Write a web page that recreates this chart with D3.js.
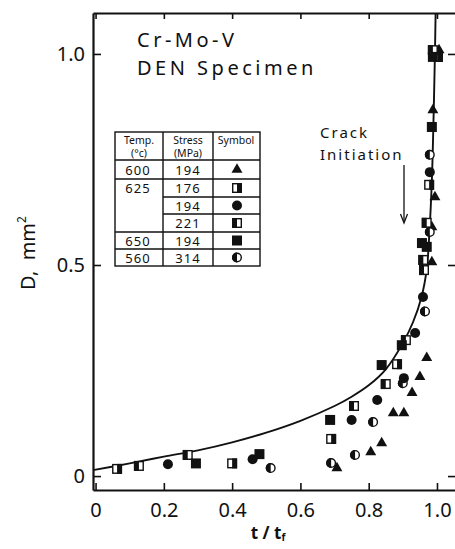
<!DOCTYPE html>
<html>
<head>
<meta charset="utf-8">
<script src="https://cdn.jsdelivr.net/npm/d3@7"></script>
<style>
  body { margin: 0; background: #fff; }
  svg { display: block; font-family: "Noto Sans", sans-serif; }
</style>
</head>
<body>
<div id="wrapper"></div>
<script>
// data: [t/tf, D mm^2]
const curve = [
    [-0.0075, 0.014], [0.1, 0.03], [0.2, 0.046], [0.3, 0.061], [0.4, 0.08],
    [0.5, 0.103], [0.6, 0.131], [0.7, 0.166], [0.75, 0.188], [0.8, 0.215],
    [0.85, 0.253], [0.9, 0.315], [0.93, 0.365], [0.955, 0.425], [0.97, 0.49],
    [0.978, 0.58], [0.985, 0.7], [0.99, 0.85], [0.994, 1.0], [0.996, 1.097]
]

const tri600 = [
    [0.707, 0.019], [0.806, 0.057], [0.838, 0.078], [0.872, 0.149], [0.903, 0.149],
    [0.927, 0.197], [0.95, 0.235], [0.97, 0.28], [0.985, 0.507], [0.985, 0.59],
    [0.994, 0.661], [0.988, 0.867], [1.006, 1.009]
]
const sq176 = [
    [0.063, 0.017], [0.40, 0.03], [0.69, 0.088], [0.883, 0.265], [0.977, 0.69], [1.003, 0.993]
]
const circ194 = [
    [0.212, 0.028], [0.46, 0.04], [0.75, 0.133], [0.825, 0.18], [0.903, 0.232],
    [0.936, 0.339], [0.959, 0.424], [0.979, 0.72]
]
const sq221 = [
    [0.127, 0.024], [0.27, 0.05], [0.757, 0.166], [0.85, 0.218], [0.909, 0.322],
    [0.962, 0.488], [0.96, 0.512], [0.97, 0.6], [0.988, 1.009]
]
const sq650 = [
    [0.294, 0.03], [0.48, 0.052], [0.687, 0.133], [0.838, 0.263], [0.897, 0.31],
    [0.956, 0.552], [0.97, 0.543], [0.985, 0.827], [0.988, 0.993]
]
const half560 = [
    [0.513, 0.019], [0.69, 0.031], [0.76, 0.05], [0.813, 0.128], [0.90, 0.22],
    [0.965, 0.39], [0.979, 0.578], [0.979, 0.761]
]

const xTicks = [0, 0.2, 0.4, 0.6, 0.8, 1.0]
const yTicks = [0, 0.5, 1.0]

const legendRows = [
    { temp: '600', stress: '194', symbol: 'tri' },
    { temp: '625', stress: '176', symbol: 'sqR' },
    { temp: '', stress: '194', symbol: 'circ' },
    { temp: '', stress: '221', symbol: 'sqL' },
    { temp: '650', stress: '194', symbol: 'sq' },
    { temp: '560', stress: '314', symbol: 'half' }
]

const series = [
    { data: tri600, symbol: 'tri' },
    { data: sq176, symbol: 'sqR' },
    { data: sq221, symbol: 'sqL' },
    { data: sq650, symbol: 'sq' },
    { data: half560, symbol: 'half' },
    { data: circ194, symbol: 'circ' }
]

// dimensions
const dms = {
    width: 455,
    height: 549,
    left: 93,
    right: 459,
    top: 13,
    bottom: 490
}

const svg = d3.select('#wrapper')
    .append('svg')
        .attr('width', dms.width)
        .attr('height', dms.height)

const xScale = d3.scaleLinear()
    .domain([-0.0075, 1.0645])
    .range([dms.left, dms.right])

const yScale = d3.scaleLinear()
    .domain([-0.033, 1.097])
    .range([dms.bottom, dms.top])

// frame + axes
const fmt = d => d === 0 ? '0' : d3.format('.1f')(d)

svg.append('g')
    .attr('transform', `translate(0,${dms.bottom})`)
    .call(d3.axisBottom(xScale).tickValues(xTicks).tickSizeInner(-7).tickSizeOuter(0)
        .tickPadding(13).tickFormat(fmt))

svg.append('g')
    .attr('transform', `translate(0,${dms.top})`)
    .call(d3.axisTop(xScale).tickValues(xTicks).tickSizeInner(-6).tickSizeOuter(0).tickFormat(''))

svg.append('g')
    .attr('transform', `translate(${dms.left},0)`)
    .call(d3.axisLeft(yScale).tickValues(yTicks).tickSizeInner(-8).tickSizeOuter(0)
        .tickPadding(8).tickFormat(fmt))

svg.append('g')
    .attr('transform', `translate(${dms.right},0)`)
    .call(d3.axisRight(yScale).tickValues(yTicks).tickSizeInner(-11).tickSizeOuter(0).tickFormat(''))

svg.selectAll('.domain').attr('stroke', '#111').attr('stroke-width', 2.2)
svg.selectAll('.tick line').attr('stroke', '#111').attr('stroke-width', 1.6)
svg.selectAll('.tick text')
    .attr('fill', '#111')
    .style('font-size', '20px')
    .style('font-family', '"Noto Sans", sans-serif')

// axis titles
svg.append('text')
    .attr('x', 268)
    .attr('y', 539)
    .attr('text-anchor', 'middle')
    .attr('fill', '#111')
    .style('font-size', '17px')
    .style('font-weight', 'bold')
    .html('t / t<tspan dy="2" font-size="10px">f</tspan>')

svg.append('text')
    .attr('transform', 'translate(35,253) rotate(-90)')
    .attr('text-anchor', 'middle')
    .attr('fill', '#111')
    .style('font-size', '20px')
    .html('D,&#160;&#160;mm<tspan dy="-9" font-size="12px">2</tspan>')

// titles
const title = svg.append('g').attr('fill', '#111')
    .style('font-size', '20px')
    .style('letter-spacing', '3.5px')
title.append('text').attr('x', 137).attr('y', 47).text('Cr-Mo-V')
title.append('text').attr('x', 137).attr('y', 75).text('DEN  Specimen')

const crack = svg.append('g').attr('fill', '#111')
    .style('font-size', '15px')
    .style('letter-spacing', '2px')
crack.append('text').attr('x', 320).attr('y', 138).text('Crack')
crack.append('text').attr('x', 320).attr('y', 160).text('Initiation')

svg.append('line')
    .attr('x1', 404).attr('x2', 404)
    .attr('y1', 165).attr('y2', 222)
    .attr('stroke', '#111').attr('stroke-width', 1.3)
svg.append('path')
    .attr('d', 'M400.5,214 L404,223 L407.5,214')
    .attr('fill', 'none').attr('stroke', '#111').attr('stroke-width', 1.3)

// curve
const lineGenerator = d3.line()
    .x(d => xScale(d[0]))
    .y(d => yScale(d[1]))
    .curve(d3.curveCatmullRom.alpha(0.5))

svg.append('path')
    .attr('d', lineGenerator(curve))
    .attr('fill', 'none')
    .attr('stroke', '#111')
    .attr('stroke-width', 1.9)

// markers
function drawSymbol(g, type) {
    const s = 5
    if (type === 'tri') {
        g.append('path').attr('d', d3.symbol(d3.symbolTriangle, 52)()).attr('fill', '#111')
    } else if (type === 'circ') {
        g.append('circle').attr('r', s).attr('fill', '#111')
    } else if (type === 'sq') {
        g.append('rect').attr('x', -s).attr('y', -s).attr('width', 2 * s).attr('height', 2 * s)
            .attr('fill', '#111')
    } else if (type === 'sqR' || type === 'sqL') {
        g.append('rect').attr('x', -s + 0.7).attr('y', -s + 0.7)
            .attr('width', 2 * s - 1.4).attr('height', 2 * s - 1.4)
            .attr('fill', '#fff').attr('stroke', '#111').attr('stroke-width', 1.4)
        g.append('rect').attr('x', type === 'sqR' ? 0 : -s).attr('y', -s)
            .attr('width', s).attr('height', 2 * s).attr('fill', '#111')
    } else if (type === 'half') {
        g.append('circle').attr('r', s - 0.7)
            .attr('fill', '#fff').attr('stroke', '#111').attr('stroke-width', 1.4)
        g.append('path').attr('d', `M0,${-s} A${s},${s} 0 0 0 0,${s} Z`).attr('fill', '#111')
    }
}

series.forEach(({ data, symbol }) => {
    svg.append('g').selectAll('g')
        .data(data)
        .join('g')
            .attr('transform', d => `translate(${xScale(d[0])},${yScale(d[1])})`)
            .each(function () { drawSymbol(d3.select(this), symbol) })
})

// legend table
const tbl = { x0: 115, x1: 163, x2: 213, x3: 260, top: 132, rows: [160, 179, 197, 214, 232, 249, 266] }
const legend = svg.append('g')
legend.append('rect')
    .attr('x', tbl.x0).attr('y', tbl.top)
    .attr('width', tbl.x3 - tbl.x0).attr('height', tbl.rows[6] - tbl.top)
    .attr('fill', '#fff').attr('stroke', '#111').attr('stroke-width', 1.4)
;[tbl.x1, tbl.x2].forEach(x => legend.append('line')
    .attr('x1', x).attr('x2', x).attr('y1', tbl.top).attr('y2', tbl.rows[6])
    .attr('stroke', '#111').attr('stroke-width', 1.4))
tbl.rows.slice(0, 6).forEach((y, i) => legend.append('line')
    .attr('x1', i === 2 || i === 3 ? tbl.x1 : tbl.x0).attr('x2', tbl.x3)
    .attr('y1', y).attr('y2', y)
    .attr('stroke', '#111').attr('stroke-width', 1.4))

const head = legend.append('g').attr('fill', '#111').attr('text-anchor', 'middle')
    .style('font-size', '10.5px')
head.append('text').attr('x', 139).attr('y', 144).text('Temp.')
head.append('text').attr('x', 139).attr('y', 157).text('(°c)')
head.append('text').attr('x', 188).attr('y', 144).text('Stress')
head.append('text').attr('x', 188).attr('y', 157).text('(MPa)')
head.append('text').attr('x', 236).attr('y', 144).text('Symbol')

legendRows.forEach((r, i) => {
    const yMid = (tbl.rows[i] + tbl.rows[i + 1]) / 2
    const cell = legend.append('g').attr('fill', '#111').attr('text-anchor', 'middle')
        .style('font-size', '13px').style('letter-spacing', '1px')
    if (r.temp) cell.append('text').attr('x', 138).attr('y', yMid + 5).text(r.temp)
    cell.append('text').attr('x', 188).attr('y', yMid + 5).text(r.stress)
    const g = legend.append('g').attr('transform', `translate(237,${yMid})`)
    drawSymbol(g, r.symbol)
})
</script>
</body>
</html>
